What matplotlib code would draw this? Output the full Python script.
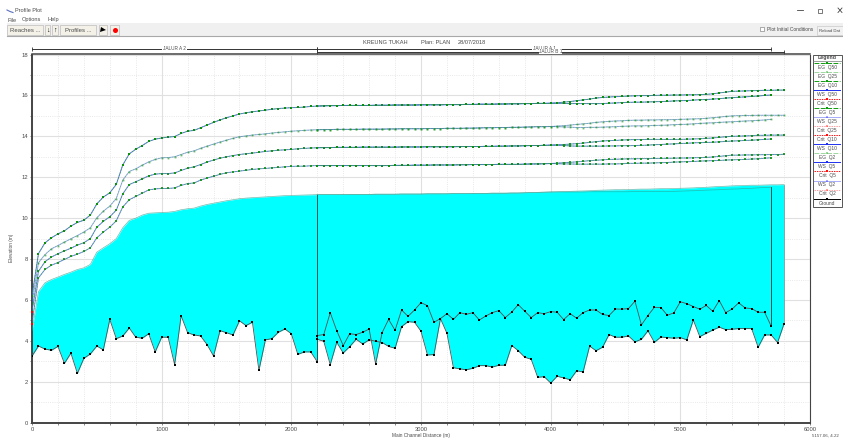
import matplotlib
matplotlib.use('Agg')
import matplotlib.pyplot as plt
from matplotlib.patches import Rectangle
from matplotlib.transforms import blended_transform_factory

plt.rcParams['font.family'] = ['Liberation Sans', 'DejaVu Sans']

# stations
dist_a2 = list(range(0, 2250, 50))
dist_stem = list(range(2200, 4050, 50))
dist_a1 = list(range(2200, 5750, 50))
dist_b1 = list(range(2200, 5850, 50))

# ground
ground_a2 = [3.26, 3.75, 3.6, 3.54, 3.73, 2.9, 3.4, 2.41, 3.15, 3.36, 3.75, 3.56, 5.05, 4.11, 4.24, 4.63, 4.18, 4.13, 4.35, 3.46, 4.18, 4.18, 2.84,
             5.23, 4.4, 4.29, 4.24, 3.82, 3.26, 4.5, 4.4, 4.29, 4.98, 4.75, 4.91, 2.56, 4.05, 4.11, 4.42, 4.58, 4.35, 3.34, 3.46, 3.46, 2.98]
ground_a1 = [4.26, 4.31, 5.38, 4.5, 3.77, 4.35, 4.31, 4.42, 4.58, 2.87, 4.4, 5.05, 4.52, 5.51, 5.2, 5.51, 5.87, 5.72, 4.91, 5.09, 5.33, 5.05, 5.38,
             5.3, 5.38, 5.02, 5.22, 5.38, 5.48, 5.14, 5.41, 5.77, 5.45, 5.14, 5.38, 5.33, 5.43,
             5.4, 5.04, 5.33, 5.11, 5.38, 5.51, 5.51, 5.29, 5.24, 5.56, 5.55, 5.58, 5.94, 4.78, 5.24, 5.64, 5.63, 5.25, 5.37, 5.91, 5.82,
             5.68, 5.55, 5.73, 5.45, 5.97, 5.38, 5.56, 5.86, 5.61, 5.58, 5.4, 5.4, 4.73]
ground_b1 = [4.08, 3.98, 2.84, 3.93, 3.41, 3.72, 4.08, 3.85, 4.05, 3.98, 3.92, 3.73, 3.64, 4.7, 4.94, 4.91, 4.47, 3.31, 3.33, 5.09, 4.37, 2.69, 2.63,
             2.59, 2.66, 2.79, 2.79, 2.72, 2.81, 2.81, 3.77, 3.52, 3.2, 3.1, 2.22, 2.25, 1.94,
             2.27, 2.19, 2.1, 2.54, 2.48, 3.74, 3.52, 3.69, 4.31, 4.18, 4.18, 4.24, 3.95, 4.08, 4.49, 3.93, 4.19, 4.16, 4.13, 4.16, 4.05,
             5.02, 4.21, 4.37, 4.53, 4.67, 4.55, 4.57, 4.6, 4.6, 4.6, 3.69, 4.29, 4.29, 3.92, 4.84]

# water surface, jalur A 2
q50_a2 = [6.2, 8.27, 8.79, 9.04, 9.23, 9.38, 9.61, 9.79, 9.9, 10.15, 10.7, 11.03, 11.24, 11.65, 12.6, 13.14, 13.37, 13.55, 13.75, 13.86, 13.92, 13.96, 13.99,
          14.14, 14.25, 14.29, 14.42, 14.55, 14.68, 14.8, 14.91, 15.0, 15.09, 15.15, 15.2, 15.24, 15.28, 15.32, 15.36, 15.38, 15.4, 15.41, 15.43, 15.46, 15.48]
q25_a2 = [5.85, 7.82, 8.22, 8.5, 8.66, 8.83, 8.99, 9.15, 9.32, 9.53, 10.02, 10.34, 10.59, 10.96, 11.86, 12.28, 12.41, 12.59, 12.75, 12.87, 12.95, 12.96, 13.0,
          13.11, 13.22, 13.29, 13.41, 13.52, 13.62, 13.72, 13.81, 13.9, 13.98, 14.02, 14.06, 14.09, 14.12, 14.16, 14.19, 14.22, 14.25, 14.27, 14.29, 14.31, 14.32]
q10_a2 = [5.45, 7.4, 7.87, 8.1, 8.26, 8.4, 8.53, 8.68, 8.8, 9.0, 9.56, 9.84, 10.07, 10.39, 11.19, 11.64, 11.78, 11.92, 12.07, 12.15, 12.18, 12.18, 12.21,
          12.33, 12.44, 12.51, 12.62, 12.74, 12.84, 12.93, 13.0, 13.06, 13.11, 13.15, 13.18, 13.22, 13.26, 13.29, 13.32, 13.34, 13.36, 13.39, 13.41, 13.43, 13.44]
q5_a2 = [4.85, 7.08, 7.49, 7.7, 7.83, 7.98, 8.13, 8.24, 8.37, 8.55, 9.04, 9.32, 9.56, 9.87, 10.55, 10.9, 11.06, 11.22, 11.38, 11.43, 11.45, 11.45, 11.48,
         11.6, 11.69, 11.72, 11.86, 11.96, 12.05, 12.14, 12.22, 12.26, 12.3, 12.34, 12.38, 12.41, 12.43, 12.46, 12.48, 12.51, 12.53, 12.54, 12.54, 12.56, 12.57]
q2_a2 = [4.5, 6.41, 6.84, 7.0, 7.12, 7.25, 7.36, 7.49, 7.57, 7.74, 8.34, 8.55, 8.75, 9.0, 9.53, 9.89, 10.0, 10.15, 10.24, 10.26, 10.28, 10.29, 10.33,
         10.41, 10.46, 10.49, 10.59, 10.67, 10.73, 10.79, 10.85, 10.9, 10.95, 10.98, 11.0, 11.02, 11.04, 11.06, 11.08, 11.1, 11.11, 11.12, 11.13, 11.14, 11.15]

# 2200-4000, both jalur sit on top of each other here
q50_stem = [15.48, 15.49, 15.5, 15.5, 15.51, 15.51, 15.51, 15.51, 15.51, 15.52, 15.52, 15.52, 15.53, 15.53, 15.53, 15.53, 15.54, 15.54, 15.54, 15.54,
            15.55, 15.55, 15.55, 15.56, 15.56, 15.57, 15.57, 15.57, 15.58, 15.58, 15.59, 15.59, 15.6, 15.6, 15.61, 15.61, 15.62]
q25_stem = [14.32, 14.33, 14.33, 14.34, 14.34, 14.34, 14.34, 14.35, 14.35, 14.35, 14.35, 14.36, 14.36, 14.37, 14.37, 14.37, 14.37, 14.38, 14.38, 14.38,
            14.39, 14.39, 14.39, 14.4, 14.4, 14.41, 14.42, 14.42, 14.43, 14.43, 14.44, 14.44, 14.45, 14.46, 14.47, 14.47, 14.48]
q10_stem = [13.44, 13.45, 13.45, 13.46, 13.46, 13.46, 13.46, 13.47, 13.47, 13.47, 13.47, 13.47, 13.47, 13.48, 13.48, 13.48, 13.48, 13.49, 13.49, 13.49,
            13.49, 13.49, 13.5, 13.5, 13.5, 13.5, 13.51, 13.51, 13.52, 13.52, 13.53, 13.53, 13.54, 13.55, 13.55, 13.56, 13.57]
q5_stem = [12.57, 12.57, 12.57, 12.57, 12.57, 12.57, 12.57, 12.57, 12.57, 12.57, 12.57, 12.57, 12.58, 12.58, 12.58, 12.59, 12.59, 12.59, 12.6, 12.6,
           12.6, 12.6, 12.61, 12.61, 12.62, 12.62, 12.62, 12.62, 12.63, 12.63, 12.63, 12.63, 12.64, 12.65, 12.65, 12.66, 12.67]
q2_stem = [11.15, 11.15, 11.15, 11.15, 11.15, 11.16, 11.16, 11.16, 11.16, 11.17, 11.17, 11.17, 11.17, 11.18, 11.18, 11.18, 11.18, 11.19, 11.19, 11.19,
           11.19, 11.2, 11.2, 11.2, 11.21, 11.21, 11.21, 11.22, 11.22, 11.22, 11.23, 11.23, 11.24, 11.25, 11.26, 11.27, 11.28]

# 4050-5700, jalur A 1
q50_a1 = [15.61, 15.61, 15.6, 15.6, 15.6, 15.6, 15.6, 15.6, 15.62, 15.63, 15.65, 15.66, 15.67, 15.67, 15.68, 15.69, 15.7, 15.71, 15.73, 15.74,
          15.75, 15.77, 15.79, 15.8, 15.82, 15.84, 15.87, 15.89, 15.91, 15.93, 15.95, 15.97, 16.0, 16.02]
q25_a1 = [14.47, 14.46, 14.45, 14.43, 14.43, 14.44, 14.44, 14.45, 14.46, 14.47, 14.49, 14.5, 14.51, 14.51, 14.52, 14.53, 14.54, 14.55, 14.57, 14.58,
          14.59, 14.61, 14.63, 14.65, 14.66, 14.68, 14.7, 14.71, 14.73, 14.75, 14.76, 14.78, 14.8, 14.83]
q10_a1 = [13.56, 13.55, 13.53, 13.52, 13.52, 13.52, 13.52, 13.52, 13.53, 13.53, 13.54, 13.54, 13.55, 13.56, 13.57, 13.59, 13.6, 13.62, 13.63, 13.65,
          13.66, 13.68, 13.69, 13.7, 13.71, 13.73, 13.75, 13.77, 13.78, 13.8, 13.81, 13.83, 13.85, 13.87]
q5_a1 = [12.66, 12.65, 12.65, 12.64, 12.64, 12.64, 12.64, 12.64, 12.65, 12.65, 12.66, 12.68, 12.68, 12.69, 12.69, 12.7, 12.71, 12.72, 12.74, 12.75,
         12.76, 12.77, 12.79, 12.8, 12.81, 12.82, 12.84, 12.85, 12.86, 12.87, 12.89, 12.9, 12.93, 12.95]
q2_a1 = [11.28, 11.28, 11.28, 11.28, 11.28, 11.29, 11.29, 11.29, 11.29, 11.29, 11.29, 11.29, 11.3, 11.3, 11.3, 11.3, 11.31, 11.31, 11.31, 11.32,
         11.33, 11.34, 11.35, 11.37, 11.38, 11.39, 11.41, 11.42, 11.43, 11.45, 11.46, 11.48, 11.5, 11.51]

# 4050-5800, jalur B 1
q50_b1 = [15.64, 15.67, 15.7, 15.74, 15.78, 15.82, 15.87, 15.9, 15.92, 15.94, 15.95, 15.97, 15.98, 15.99, 15.99, 16.0, 16.01, 16.01, 16.02, 16.02,
          16.03, 16.03, 16.04, 16.05, 16.08, 16.12, 16.16, 16.2, 16.21, 16.22, 16.23, 16.24, 16.25, 16.25, 16.26, 16.26]
q25_b1 = [14.5, 14.52, 14.55, 14.58, 14.61, 14.64, 14.68, 14.71, 14.73, 14.75, 14.76, 14.78, 14.79, 14.79, 14.8, 14.8, 14.81, 14.81, 14.82, 14.83,
          14.84, 14.85, 14.86, 14.88, 14.91, 14.94, 14.97, 15.0, 15.01, 15.02, 15.02, 15.03, 15.03, 15.03, 15.03, 15.03]
q10_b1 = [13.59, 13.6, 13.62, 13.64, 13.67, 13.7, 13.74, 13.77, 13.79, 13.8, 13.82, 13.83, 13.84, 13.84, 13.85, 13.85, 13.85, 13.85, 13.85, 13.85,
          13.86, 13.87, 13.88, 13.9, 13.92, 13.95, 13.98, 14.0, 14.01, 14.02, 14.03, 14.05, 14.05, 14.06, 14.06, 14.06]
q5_b1 = [12.69, 12.71, 12.73, 12.75, 12.78, 12.81, 12.83, 12.85, 12.87, 12.88, 12.89, 12.9, 12.9, 12.91, 12.91, 12.92, 12.92, 12.93, 12.93, 12.94,
         12.94, 12.95, 12.96, 12.97, 12.99, 13.02, 13.05, 13.08, 13.08, 13.09, 13.09, 13.1, 13.1, 13.11, 13.11, 13.12]
q2_b1 = [11.29, 11.3, 11.31, 11.32, 11.33, 11.34, 11.36, 11.37, 11.38, 11.39, 11.39, 11.4, 11.41, 11.42, 11.42, 11.43, 11.44, 11.44, 11.45, 11.46,
         11.47, 11.48, 11.5, 11.51, 11.53, 11.55, 11.56, 11.58, 11.59, 11.6, 11.61, 11.61, 11.62, 11.63, 11.63, 11.64]

# crit only shows at the very start
crit_dist = [0, 0]
crit_elev = [5.43, 4.81]

legend_labels = ['EG  Q50', 'EG  Q25', 'EG  Q10', 'WS  Q50', 'Crit  Q50', 'EG  Q5', 'WS  Q25', 'Crit  Q25',
                 'Crit  Q10', 'WS  Q10', 'EG  Q2', 'WS  Q5', 'Crit  Q5', 'WS  Q2', 'Crit  Q2', 'Ground']
pale_labels = ['EG  Q25', 'WS  Q25', 'Crit  Q25', 'EG  Q2', 'WS  Q2', 'Crit  Q2']

W, H = 843, 440
L, R, T, B = 32, 810, 54.5, 422.7
TXT = '#4a4a4a'

fig = plt.figure(figsize=(W / 100, H / 100), dpi=100)

# window stuff in pixel coords
ui = fig.add_axes([0, 0, 1, 1], zorder=0)
ui.set_xlim(0, W)
ui.set_ylim(H, 0)
ui.axis('off')

ax = fig.add_axes([L / W, 1 - B / H, (R - L) / W, (B - T) / H], zorder=1)
ax.set_xlim(0, 6000)
ax.set_ylim(0, 18)
ax.set_xticks(range(0, 7000, 1000))
ax.set_yticks(range(0, 20, 2))
ax.set_xticks(range(0, 6200, 200), minor=True)
ax.set_yticks(range(0, 19), minor=True)
ax.grid(which='major', color='#e0e0e0', lw=0.8)
ax.grid(which='minor', color='#e2e2e2', lw=0.6, ls=':')
ax.set_axisbelow(True)
ax.tick_params(which='both', length=1.5, width=0.5, color='#555555', labelsize=4.2, labelcolor=TXT, pad=1.5)
for side, lw in [('left', 1.4), ('bottom', 1.4), ('top', 1.1), ('right', 0.8)]:
    ax.spines[side].set_linewidth(lw)
    ax.spines[side].set_color('#444444')

# water body
for xs, low, top in [(dist_a2, ground_a2, q2_a2),
                     (dist_a1, ground_a1, q2_stem + q2_a1),
                     (dist_b1, ground_b1, q2_stem + q2_b1)]:
    ax.fill_between(xs, low, top, color='#00ffff', lw=0, zorder=2)

# section ends
ax.plot([2200, 2200], [ground_a2[-1], q2_a2[-1]], color='#2f4f4f', lw=0.7, zorder=3)
ax.plot([5700, 5700], [ground_a1[-1], q2_a1[-1]], color='#2f4f4f', lw=0.7, zorder=3)
ax.plot([5800, 5800], [ground_b1[-1], q2_b1[-1]], color='#8a9a9a', lw=0.6, zorder=3)

# profiles: blue WS under green EG
profiles = [(q50_a2, q50_stem, q50_a1, q50_b1, 1.9, 1.0),
            (q25_a2, q25_stem, q25_a1, q25_b1, 1.3, 0.6),
            (q10_a2, q10_stem, q10_a1, q10_b1, 1.6, 0.9),
            (q5_a2, q5_stem, q5_a1, q5_b1, 1.6, 0.85)]
for a2, stem, a1, b1, ms, alpha in profiles:
    for xs, ys in [(dist_a2, a2), (dist_a1, stem + a1), (dist_b1, stem + b1)]:
        ax.plot(xs, ys, color='#3a58ee', lw=0.7, alpha=alpha * 0.8, zorder=4)
        ax.plot(xs, ys, color='#2aa52a', lw=0.4, ls=(0, (3, 2)), marker='s', ms=ms, mew=0, mfc='#0a900a', alpha=alpha, zorder=5)

# Q2 sits on the water edge
for xs, ys in [(dist_a2, q2_a2), (dist_a1, q2_stem + q2_a1), (dist_b1, q2_stem + q2_b1)]:
    ax.plot(xs, ys, color='#2f9f8f', lw=0.5, alpha=0.7, zorder=4)

ax.plot(crit_dist, crit_elev, ls='none', marker='s', ms=1.6, mew=0, color='#ff0000', zorder=6, clip_on=False)

# ground
for xs, ys in [(dist_a2, ground_a2), (dist_a1, ground_a1), (dist_b1, ground_b1)]:
    ax.plot(xs, ys, color='#505050', lw=0.6, marker='s', ms=1.8, mew=0, mfc='black', zorder=7)

# reach brackets above the plot
tr = blended_transform_factory(ax.transData, ax.transAxes)
def bracket(x0, x1, px_y, label, label_x, pad):
    yy = 1 + (T - px_y) / (B - T)
    ax.plot([x0, x1], [yy, yy], transform=tr, color='#333333', lw=0.7, clip_on=False, marker='|', ms=3, mew=0.6)
    ax.text(label_x, yy, label, transform=tr, ha='center', va='center', fontsize=3.4, color=TXT,
            bbox=dict(fc='white', ec='none', pad=pad), clip_on=False)

bracket(0, 2200, 48.7, 'JALUR A 2', 1100, 0.6)
bracket(2200, 5700, 48.7, 'JALUR A 1', 3950, 0.4)
bracket(2200, 5800, 51.7, 'JALUR B 1', 4000, 0)

# title bar and menu
ui.plot([7, 10, 13], [10, 11.5, 12.5], color='#5a6fc0', lw=0.8)
ui.text(15, 11, 'Profile Plot', fontsize=4, color=TXT, va='center')
for x, s in [(8, 'File'), (22, 'Options'), (47, 'Help')]:
    ui.text(x, 20, s, fontsize=4.1, color=TXT, va='center')
ui.plot([797, 803], [10.5, 10.5], color='#444444', lw=0.6)
ui.add_patch(Rectangle((818, 9), 3.6, 3.6, fc='none', ec='#444444', lw=0.5))
ui.plot([838, 842], [8, 12.5], color='#444444', lw=0.6)
ui.plot([838, 842], [12.5, 8], color='#444444', lw=0.6)

# toolbar
ui.add_patch(Rectangle((7, 23.5), W - 7, 13, fc='#f0f0f0', ec='none'))
ui.plot([7, W], [36.5, 36.5], color='#a8a8a8', lw=0.8)
for x0, x1 in [(7, 43), (45, 50), (52, 58), (60, 96), (99, 107), (110, 119)]:
    ui.add_patch(Rectangle((x0, 25.5), x1 - x0, 9.5, fc='#f4f2e8', ec='#b0b0b0', lw=0.4))
ui.text(25, 30.3, 'Reaches ...', fontsize=4.3, color=TXT, ha='center', va='center')
ui.text(78, 30.3, 'Profiles ...', fontsize=4.3, color=TXT, ha='center', va='center')
ui.text(47.5, 30, '↓', fontsize=5, color='black', ha='center', va='center', fontweight='bold')
ui.text(55, 30, '↑', fontsize=5, color='black', ha='center', va='center', fontweight='bold')
ui.plot([102.5], [30], marker='>', ms=3.6, color='black', mew=0)
ui.plot([114.5], [30], marker='o', ms=3.6, color='#ff0000', mew=0)
ui.add_patch(Rectangle((760, 27.5), 4, 4, fc='white', ec='#707070', lw=0.4))
ui.text(767, 29.3, 'Plot Initial Conditions', fontsize=3.5, color=TXT, va='center')
ui.add_patch(Rectangle((817, 26), 30, 9.5, fc='#f2f2f2', ec='#c0c0c0', lw=0.4))
ui.text(819, 30.7, 'Reload Dat', fontsize=3.1, color=TXT, va='center')

# plot title
ui.text(363, 42, 'KREUNG TUKAH', fontsize=4.1, color=TXT, va='center')
ui.text(421, 42, 'Plan: PLAN', fontsize=4.1, color=TXT, va='center')
ui.text(458, 42, '28/07/2018', fontsize=4.1, color=TXT, va='center')

ui.text(11.5, 248, 'Elevation (m)', fontsize=3.4, color=TXT, rotation=90, ha='center', va='center')
ui.text(421, 436, 'Main Channel Distance (m)', fontsize=3.4, color=TXT, ha='center', va='center')
ui.text(812, 436, '5157.06, 4.22', fontsize=3.2, color=TXT, va='center')

# legend box
ui.add_patch(Rectangle((812.5, 54.7), 29.5, 152.3, fc='white', ec='#555555', lw=0.7))
ui.text(827, 58, 'Legend', fontsize=3.8, color=TXT, ha='center', va='center', fontweight='bold')
ui.plot([812.5, 842], [61.5, 61.5], color='#777777', lw=0.5)
row_h = 9.05
for i, lab in enumerate(legend_labels):
    y_txt = 67.3 + i * row_h
    y_line = y_txt - 4.4
    alpha = 0.4 if lab in pale_labels else 1
    if lab.startswith('EG'):
        c, ls = '#0f9a0f', (0, (5, 1.5))
    elif lab.startswith('WS'):
        c, ls = '#2030ee', '-'
    elif lab.startswith('Crit'):
        c, ls = '#ff1010', (0, (1.5, 1))
    else:
        c, ls = 'black', '-'
    ui.plot([814, 840], [y_line, y_line], color=c, ls=ls, lw=0.7, alpha=alpha)
    ui.plot([827], [y_line], marker='s', ms=2, mew=0, color=c, alpha=alpha)
    ui.text(827, y_txt, lab, fontsize=3.5, color=TXT, ha='center', va='center')

fig.savefig('out.png', dpi=100)
